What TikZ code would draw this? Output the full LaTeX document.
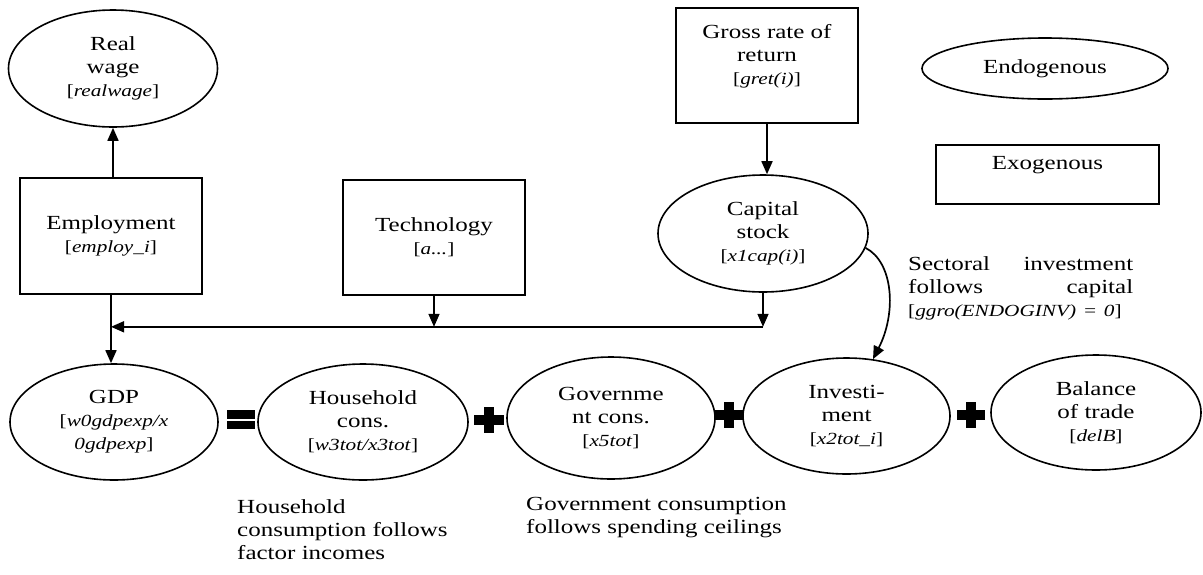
\documentclass[tikz,border=0pt]{standalone}
\usepackage{fontspec}
\setmainfont{Liberation Serif}[FakeStretch=1.25]
\usetikzlibrary{shapes.geometric,arrows.meta,calc}
\newcommand\mainsize{\fontsize{20}{23}\selectfont}
\newcommand\varsize{\fontsize{17}{20}\selectfont}
\newcommand\varline[1]{{\varsize[\textit{#1}]}}
\begin{document}
\begin{tikzpicture}[x=1pt,y=-1pt,
  endo/.style={ellipse, draw, line width=1.6pt, inner sep=0pt, align=center, font=\mainsize},
  exo/.style={rectangle, draw, line width=1.6pt, inner sep=0pt, align=center, font=\mainsize},
  arr/.style={-{Triangle[length=13pt,width=11pt]}, line width=1.7pt},
  note/.style={align=left, anchor=north west, inner sep=0pt, font=\mainsize},
  plus/.style={fill=black},
]
\useasboundingbox (0,0) rectangle (1203,574);

% top row
\node[endo, minimum width=209pt, minimum height=117pt] (rw) at (113,68.5) {Real\\ wage\\ \varline{realwage}};
\node[exo, minimum width=182pt, minimum height=116pt] (emp) at (111,236) {Employment\\ \varline{employ\_i}};
\node[exo, minimum width=182pt, minimum height=115pt] (tech) at (434,237.5) {Technology\\ \varline{a...}};
\node[exo, minimum width=182pt, minimum height=115pt] (gross) at (767,65.5) {Gross rate of\\ return\\ \varline{gret(i)}\\ \mbox{}};
\node[endo, minimum width=210pt, minimum height=117pt] (cap) at (763,233.5) {Capital\\ stock\\ \varline{x1cap(i)}};

% legend
\node[endo, minimum width=246pt, minimum height=61pt] (endog) at (1045,68.5) {Endogenous};
\node[exo, minimum width=223pt, minimum height=59pt] (exog) at (1047.5,174.5) {Exogenous\\ \mbox{}};

% bottom row
\node[endo, minimum width=208pt, minimum height=116pt] (gdp) at (114,422) {GDP\\ {\varsize[\textit{w0gdpexp/x}}\\ {\varsize\textit{0gdpexp}]}};
\node[endo, minimum width=210pt, minimum height=116pt] (hh) at (363,422) {Household\\ cons.\\ \varline{w3tot/x3tot}};
\node[endo, minimum width=208pt, minimum height=122pt] (gov) at (611,418) {Governme\\ nt cons.\\ \varline{x5tot}};
\node[endo, minimum width=207pt, minimum height=116pt] (inv) at (846.5,416) {Investi-\\ ment\\ \varline{x2tot\_i}};
\node[endo, minimum width=210pt, minimum height=115pt] (bal) at (1096,412.5) {Balance\\ of trade\\ \varline{delB}};

% notes
\node[note, text width=225pt] (secnote) at (908,256) {Sectoral\hfill investment\\ follows\hfill capital\\ \varline{ggro(ENDOGINV) = 0}};
\node[note] (hhnote) at (237,499) {Household\\ consumption follows\\ factor incomes};
\node[note] (govnote) at (526,497) {Government consumption\\ follows spending ceilings};

% connectors
\draw[arr] (emp.north -| rw.south) -- (rw.south);
\draw[arr] (gross.south) -- (gross.south |- cap.north);
\coordinate (jr) at ($(cap.south)+(0,34)$);
\coordinate (jl) at (emp.south |- jr);
\coordinate (jt) at (tech.south |- jr);
\draw[arr] (cap.south) -- (jr);
\draw[arr] (tech.south) -- (jt);
\draw[arr] (jr) -- (jl);
\draw[arr] (emp.south) -- (emp.south |- gdp.north);
\draw[arr] (cap.-8) .. controls (893,262) and (897,312) .. (inv.65);

% operators
\fill (227,410) rectangle (255,419);
\fill (227,421) rectangle (255,429);
\fill[plus] (474,415) rectangle (504,425);
\fill[plus] (484,407) rectangle (494,433);
\fill[plus] (715,410) rectangle (743,420);
\fill[plus] (724,402) rectangle (734,428);
\fill[plus] (957,410) rectangle (985,420);
\fill[plus] (966,402) rectangle (976,428);
\end{tikzpicture}
\end{document}
